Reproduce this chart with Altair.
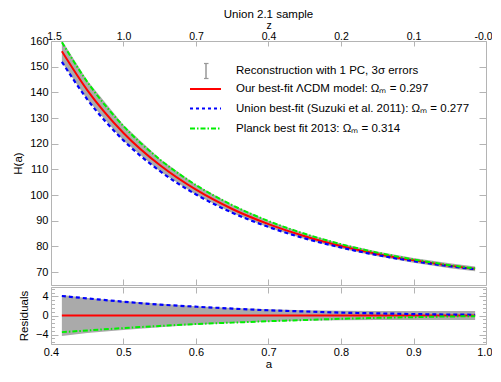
import altair as alt
import pandas as pd

FONT = "Liberation Sans"
AXC = "#b4b4b4"

# ---- data ----
a_vals = [0.415, 0.45, 0.5, 0.55, 0.6, 0.65, 0.7, 0.75, 0.8, 0.85, 0.9, 0.95, 0.985]
h_ours = [156.0, 140.9, 124.2, 111.7, 102.1, 94.6, 88.7, 84.0, 80.2, 77.1, 74.6, 72.5, 71.3]
h_union = [151.9, 137.3, 121.3, 109.4, 100.25, 93.15, 87.6, 83.15, 79.6, 76.65, 74.3, 72.3, 71.15]
h_planck = [159.5, 144.1, 126.85, 113.9, 103.9, 96.1, 89.9, 84.95, 80.9, 77.6, 74.95, 72.7, 71.45]
h_band_hi = [160.3, 144.6, 127.25, 114.15, 104.05, 96.2, 90.0, 85.1, 81.2, 78.05, 75.55, 73.45, 72.25]
h_band_lo = [151.7, 137.2, 121.15, 109.25, 100.15, 93.0, 87.4, 82.9, 79.2, 76.15, 73.65, 71.55, 70.35]

res_ours = [0.0, 0.0, 0.0, 0.0, 0.0, 0.0, 0.0, 0.0, 0.0, 0.0, 0.0, 0.0, 0.0]
res_union = [4.1, 3.6, 2.9, 2.3, 1.85, 1.45, 1.1, 0.85, 0.6, 0.45, 0.3, 0.2, 0.15]
res_planck = [-3.5, -3.15, -2.65, -2.2, -1.8, -1.5, -1.2, -0.95, -0.7, -0.5, -0.35, -0.2, -0.15]
res_band_hi = [4.3, 3.7, 3.05, 2.45, 1.95, 1.6, 1.3, 1.1, 1.0, 0.95, 0.95, 0.95, 0.95]
res_band_lo = [-4.3, -3.7, -3.05, -2.45, -1.95, -1.6, -1.3, -1.1, -1.0, -0.95, -0.95, -0.95, -0.95]

a_ticks = [0.4, 0.5, 0.6, 0.7, 0.8, 0.9, 1.0]
a_tick_labels = ["0.4", "0.5", "0.6", "0.7", "0.8", "0.9", "1.0"]
z_labels = ["1.5", "1.0", "0.7", "0.4", "0.2", "0.1", "-0.0"]
h_ticks = [70, 80, 90, 100, 110, 120, 130, 140, 150, 160]
res_ticks = [-4, 0, 4]
res_minor = [-5.6, -4.8, -3.2, -2.4, -1.6, -0.8, 0.8, 1.6, 2.4, 3.2, 4.8, 5.6]

legend_labels = [
    "Reconstruction with 1 PC, 3\u03c3 errors",
    "Our best-fit \u039bCDM model: \u03a9\u2098 = 0.297",
    "Union best-fit (Suzuki et al. 2011): \u03a9\u2098 = 0.277",
    "Planck best fit 2013: \u03a9\u2098 = 0.314",
]

df = pd.DataFrame({
    "a": a_vals, "ours": h_ours, "union": h_union, "planck": h_planck,
    "hi": h_band_hi, "lo": h_band_lo,
    "r_ours": res_ours, "r_union": res_union, "r_planck": res_planck,
    "r_hi": res_band_hi, "r_lo": res_band_lo,
})
one = pd.DataFrame({"k": [0]})

W, H_TOP, H_BOT = 435, 244, 57
XS = alt.Scale(domain=[0.4, 1.0], nice=False, zero=False)
YS = alt.Scale(domain=[65, 160], nice=False, zero=False)
RS = alt.Scale(domain=[-6, 6], nice=False, zero=False)
GREEN = "#00f000"


def axis(orient, values, labels=False, size=6, domain=True, title=None, **kw):
    d = dict(orient=orient, values=values, labels=labels, grid=False,
             domain=domain, domainColor=AXC, tickColor=AXC, tickWidth=1,
             tickSize={"expr": str(-size)},
             labelFont=FONT, labelFontSize=11, labelColor="black",
             labelFlush=False, labelOverlap=False,
             titleFont=FONT, titleFontSize=11.5, titleFontWeight="normal",
             titleColor="black", title=title)
    if labels:
        d["labelPadding"] = size + 3
    d.update(kw)
    return alt.Axis(**d)


END_ALIGN = {"condition": {"test": "datum.value >= 0.99", "value": "right"}, "value": "center"}
END_OFF = {"condition": {"test": "datum.value >= 0.99", "value": 6}, "value": 0}
TOP_OFF = {"condition": [{"test": "datum.value >= 0.99", "value": 6},
                         {"test": "datum.value <= 0.41", "value": 3}], "value": 0}

base = alt.Chart(df)
ghost = base.mark_point(opacity=0)

# ---------------- top panel ----------------
band = base.mark_area(color="#aaaaaa", clip=True).encode(
    x=alt.X("a:Q", scale=XS, axis=axis("bottom", a_ticks)),
    y=alt.Y("lo:Q", scale=YS, axis=axis("left", h_ticks, labels=True, title="H(a)",
                                        size=7, titlePadding=6)),
    y2="hi:Q",
)
l_ours = base.mark_line(color="#ff0000", strokeWidth=2, interpolate="monotone", clip=True).encode(
    x=alt.X("a:Q", scale=XS, axis=None), y=alt.Y("ours:Q", scale=YS, axis=None))
l_union = base.mark_line(color="#0000ff", strokeWidth=2.2, strokeDash=[4, 3],
                         interpolate="monotone", clip=True).encode(
    x=alt.X("a:Q", scale=XS, axis=None), y=alt.Y("union:Q", scale=YS, axis=None))
l_planck = base.mark_line(color=GREEN, strokeWidth=2, strokeDash=[5, 2, 1.5, 2],
                          interpolate="monotone", clip=True).encode(
    x=alt.X("a:Q", scale=XS, axis=None), y=alt.Y("planck:Q", scale=YS, axis=None))

z_expr = "[" + ",".join("'%s'" % s for s in z_labels) + "][indexof([" + \
    ",".join("'%s'" % s for s in a_tick_labels) + "], datum.label)]"
top_axis = ghost.encode(
    x=alt.X("a:Q", scale=XS, axis=axis("top", a_ticks, labels=True, title="z", size=5,
                                       labelFontSize=10.5, titleFontSize=10.5,
                                       labelPadding=5, format=".1f", labelExpr=z_expr,
                                       titlePadding=1, labelAlign=END_ALIGN,
                                       labelOffset=TOP_OFF)))
right_axis = ghost.encode(
    y=alt.Y("ours:Q", scale=YS, axis=axis("right", h_ticks, size=7)))

leg = alt.Chart(one)
leg_err = leg.mark_rule(color="#999999", strokeWidth=1.5).encode(
    x=alt.value(155), y=alt.value(22.5), y2=alt.value(37.5))
leg_cap1 = leg.mark_rule(color="#999999", strokeWidth=1.2).encode(
    x=alt.value(153), x2=alt.value(157.5), y=alt.value(22.5))
leg_cap2 = leg.mark_rule(color="#999999", strokeWidth=1.2).encode(
    x=alt.value(153), x2=alt.value(157.5), y=alt.value(37.5))
leg_red = leg.mark_rule(color="#ff0000", strokeWidth=2).encode(
    x=alt.value(139), x2=alt.value(170), y=alt.value(48))
leg_blue = leg.mark_rule(color="#0000ff", strokeWidth=2, strokeDash=[3, 3]).encode(
    x=alt.value(139), x2=alt.value(170), y=alt.value(67.5))
leg_green = leg.mark_rule(color=GREEN, strokeWidth=2, strokeDash=[5, 2, 1.5, 2]).encode(
    x=alt.value(139), x2=alt.value(170), y=alt.value(87.5))
leg_texts = [
    leg.mark_text(align="left", baseline="middle", font=FONT, fontSize=11.5, color="black").encode(
        x=alt.value(185), y=alt.value(yy), text=alt.value(t))
    for t, yy in zip(legend_labels, [29.5, 48, 67.5, 87.5])
]

top = alt.layer(band, l_ours, l_union, l_planck, top_axis, right_axis,
                leg_err, leg_cap1, leg_cap2, leg_red, leg_blue, leg_green, *leg_texts
                ).resolve_axis(x="independent", y="independent").properties(
    width=W, height=H_TOP,
    title=alt.Title("Union 2.1 sample", font=FONT, fontSize=11.5, fontWeight="normal",
                    color="black", anchor="middle", frame="group", offset=0),
)

# ---------------- residual panel ----------------
r_band = base.mark_area(color="#aaaaaa").encode(
    x=alt.X("a:Q", scale=XS, axis=axis("bottom", a_ticks, labels=True, title="a",
                                       format=".1f", titlePadding=1, labelPadding=8,
                                       labelAlign=END_ALIGN, labelOffset=END_OFF)),
    y=alt.Y("r_lo:Q", scale=RS, axis=axis("left", res_ticks, labels=True, title="Residuals",
                                          size=7, titlePadding=6)),
    y2="r_hi:Q",
)
r_ours = base.mark_line(color="#ff0000", strokeWidth=2).encode(
    x=alt.X("a:Q", scale=XS, axis=None), y=alt.Y("r_ours:Q", scale=RS, axis=None))
r_union = base.mark_line(color="#0000ff", strokeWidth=2.2, strokeDash=[4, 3],
                         interpolate="monotone").encode(
    x=alt.X("a:Q", scale=XS, axis=None), y=alt.Y("r_union:Q", scale=RS, axis=None))
r_planck = base.mark_line(color=GREEN, strokeWidth=2, strokeDash=[5, 2, 1.5, 2],
                          interpolate="monotone").encode(
    x=alt.X("a:Q", scale=XS, axis=None), y=alt.Y("r_planck:Q", scale=RS, axis=None))
r_top = ghost.encode(x=alt.X("a:Q", scale=XS, axis=axis("top", a_ticks)))
r_left_minor = ghost.encode(
    y=alt.Y("r_union:Q", scale=RS, axis=axis("left", res_minor, size=3.5, domain=False)))
r_right = ghost.encode(
    y=alt.Y("r_planck:Q", scale=RS, axis=axis("right", res_ticks, size=7)))
r_right_minor = ghost.encode(
    y=alt.Y("r_hi:Q", scale=RS, axis=axis("right", res_minor, size=3.5, domain=False)))

bottom = alt.layer(r_band, r_ours, r_union, r_planck, r_top, r_left_minor, r_right, r_right_minor
                   ).resolve_axis(x="independent", y="independent").properties(
    width=W, height=H_BOT)

chart = alt.vconcat(top, bottom, spacing=0).properties(
    padding={"left": 4, "top": 0, "right": 0, "bottom": 0}
).configure_view(stroke=None)

chart.save("out.html", embed_options={"renderer": "svg", "actions": False})
